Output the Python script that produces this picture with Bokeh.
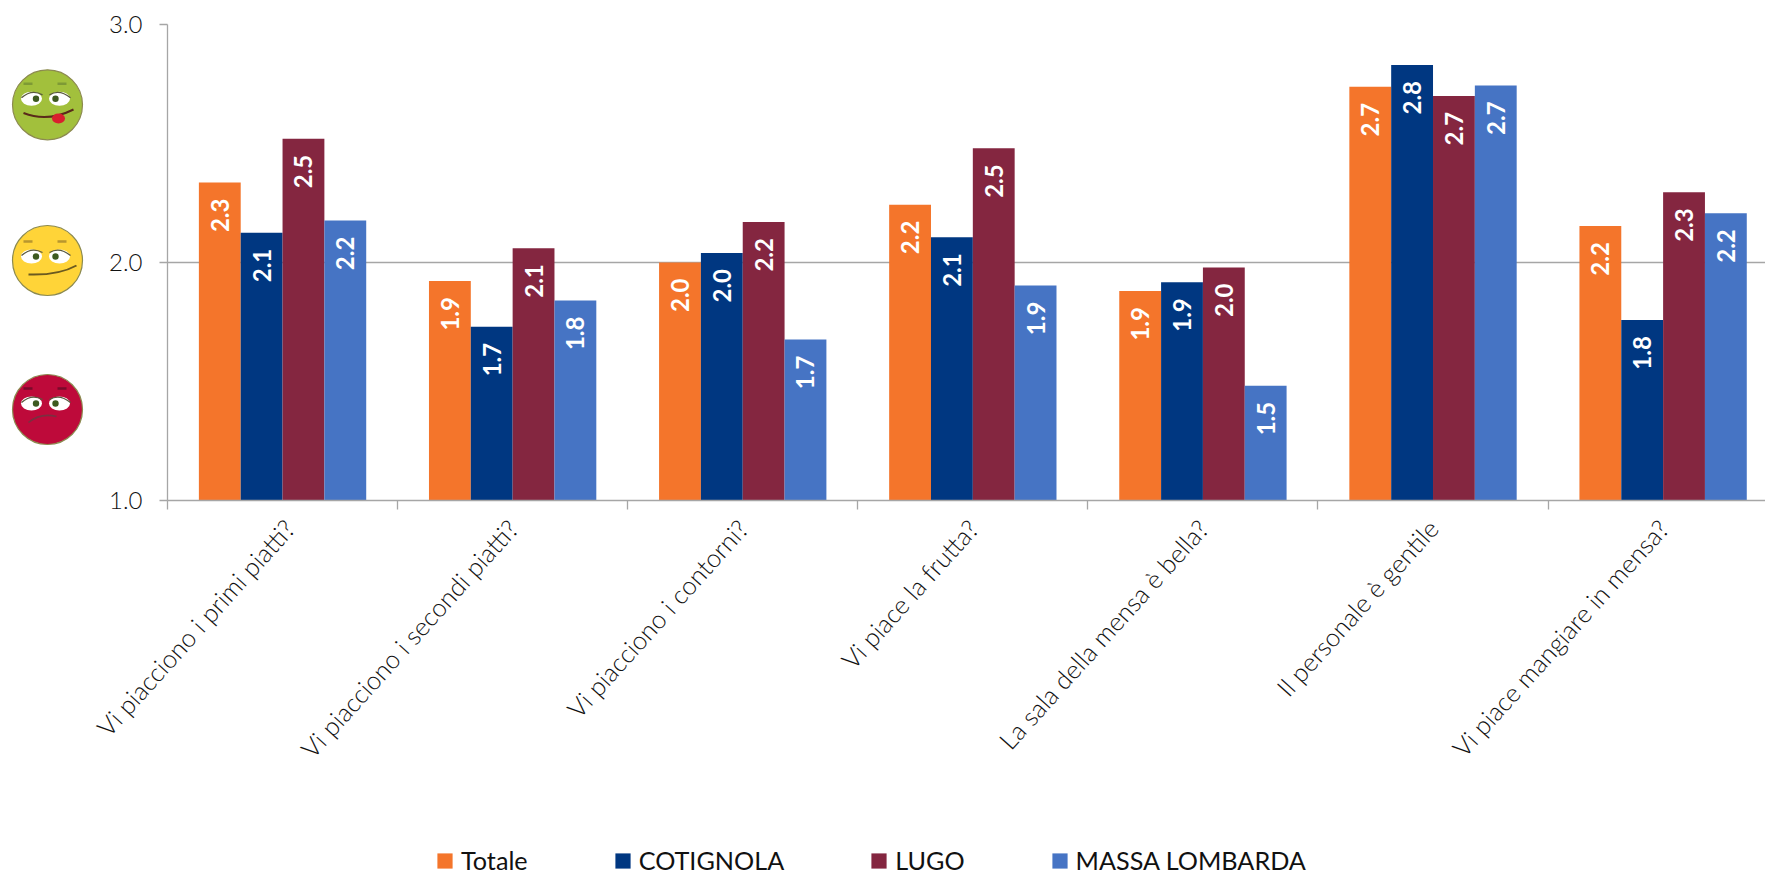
from math import pi
from bokeh.core.properties import value
from bokeh.embed import file_html
from bokeh.layouts import column, row
from bokeh.models import (ColumnDataSource, FixedTicker, Legend, LegendItem, NumeralTickFormatter, Range1d)
from bokeh.plotting import figure
from bokeh.resources import INLINE

categories = ["Vi piacciono i primi piatti?", "Vi piacciono i secondi piatti?", "Vi piacciono i contorni?",
              "Vi piace la frutta?", "La sala della mensa è bella?", "Il personale è gentile",
              "Vi piace mangiare in mensa?"]
totale = [2.336, 1.922, 2.00, 2.243, 1.88, 2.738, 2.153]
cotignola = [2.125, 1.73, 2.04, 2.106, 1.917, 2.83, 1.758]
lugo = [2.52, 2.06, 2.17, 2.48, 1.979, 2.70, 2.295]
massa = [2.176, 1.84, 1.676, 1.903, 1.482, 2.744, 2.207]
series_names = ["Totale", "COTIGNOLA", "LUGO", "MASSA LOMBARDA"]
series_values = [totale, cotignola, lugo, massa]
colors = ["#F4752B", "#003781", "#842640", "#4674C4"]
y_ticks = [1, 2, 3]

FONT = "Lato"
LIGHT = "'Lato Light', Lato"
GRAY = "#A6A6A6"
TOP_H = 835

# ---- left strip with the three faces
s = figure(width=90, height=TOP_H, x_range=Range1d(0, 90), y_range=Range1d(500, 24),
           toolbar_location=None, output_backend="svg",
           min_border_left=0, min_border_right=0, min_border_top=24, min_border_bottom=TOP_H - 500)
s.axis.visible = False
s.grid.visible = False
s.outline_line_color = None
face_cols = ["#A2C03C", "#FFD438", "#BE0A3A"]
brow_cols = ["#7E9A35", "#B8962E", "#7A0A2A"]
cy = [104.3, 260, 409]
eye_dy = [-6, -4, -6]
s.circle(x=[47, 47, 47], y=cy, radius=35, fill_color=face_cols, line_color="#8C8A50", line_width=1.2)
for c, d, bc in zip(cy, eye_dy, brow_cols):
    e = c + d
    s.ellipse(x=[31, 59], y=[e, e], width=21, height=14, fill_color="white", line_color=None)
    s.circle(x=[35.5, 55], y=[e, e], radius=3.2, fill_color="#3D5A20", line_color=None)
    s.quadratic(x0=[21, 49], y0=[e - 1, e - 4], x1=[42, 70], y1=[e - 4, e - 1], cx=[31, 59], cy=[e - 10, e - 10],
                line_color="#5A5A40", line_width=1.4)
    s.line([23, 32], [e - 15, e - 15], line_color=bc, line_width=2.5)
    s.line([57, 66], [e - 15, e - 15], line_color=bc, line_width=2.5)
s.quadratic(x0=[23], y0=[112.5], x1=[73], y1=[109], cx=[47], cy=[122], line_color="#5A2A1A", line_width=2)
s.ellipse(x=[58], y=[118], width=13, height=10, fill_color="#D9202E", line_color=None)
s.quadratic(x0=[28], y0=[274], x1=[76], y1=[265], cx=[58], cy=[275], line_color="#6B5A20", line_width=2)
s.quadratic(x0=[28], y0=[422], x1=[56], y1=[416], cx=[40], cy=[412], line_color="#7A3040", line_width=1.6)

# ---- main chart
p = figure(width=1675, height=TOP_H, x_range=Range1d(0, 6.945), y_range=Range1d(1, 3),
           toolbar_location=None, output_backend="svg",
           min_border_left=77, min_border_right=0, min_border_top=24, min_border_bottom=TOP_H - 500)
p.outline_line_color = None
p.xgrid.visible = False
p.ygrid.ticker = FixedTicker(ticks=y_ticks)
p.ygrid.grid_line_color = GRAY
p.ygrid.grid_line_width = 1.3

bar_w = 2 / 11
n = len(series_names)
for k, (name, vals, col) in enumerate(zip(series_names, series_values, colors)):
    xs = [i + 0.5 + (k - (n - 1) / 2) * bar_w for i in range(len(vals))]
    src = ColumnDataSource(dict(x=xs, top=vals, label=[f"{v:.1f}" for v in vals]))
    p.vbar(x="x", top="top", bottom=1, width=bar_w, fill_color=col, line_color=None, source=src)
    p.text(x="x", y="top", text="label", source=src, angle=pi / 2, text_align="right",
           text_baseline="middle", y_offset=16, text_color="white", text_font=value(FONT),
           text_font_style="bold", text_font_size="24px")

xa = p.xaxis[0]
xa.ticker = FixedTicker(ticks=[i + 0.5 for i in range(len(categories))], minor_ticks=list(range(8)))
xa.major_label_overrides = {i + 0.5: c for i, c in enumerate(categories)}
xa.major_label_orientation = 48 * pi / 180
xa.major_label_text_font = LIGHT
xa.major_label_text_font_size = "25.5px"
xa.major_label_text_color = "#111111"
xa.major_label_standoff = 14
xa.major_tick_line_color = None
xa.major_tick_out = 0
xa.major_tick_in = 0
xa.minor_tick_out = 9
xa.minor_tick_in = 0
xa.minor_tick_line_color = GRAY
xa.minor_tick_line_width = 1.3
xa.axis_line_color = GRAY
xa.axis_line_width = 1.3

ya = p.yaxis[0]
ya.ticker = FixedTicker(ticks=y_ticks)
ya.formatter = NumeralTickFormatter(format="0.0")
ya.minor_tick_line_color = None
ya.major_tick_out = 8
ya.major_tick_in = 0
ya.major_tick_line_color = GRAY
ya.major_tick_line_width = 1.3
ya.axis_line_color = GRAY
ya.axis_line_width = 1.3
ya.major_label_text_font = LIGHT
ya.major_label_text_font_size = "24px"
ya.major_label_text_color = "#111111"
ya.major_label_standoff = 17

# ---- legend strip (its own figure, so that nothing clips it)
lf = figure(width=1765, height=875 - TOP_H, x_range=Range1d(0, 1), y_range=Range1d(0, 1),
            toolbar_location=None, output_backend="svg", min_border=0)
lf.axis.visible = False
lf.grid.visible = False
lf.outline_line_color = None
key_renderers = [lf.vbar(x=[-5], top=[-5], bottom=[-6], width=1, fill_color=c, line_color=None) for c in colors]
legend = Legend(items=[LegendItem(label=nm, renderers=[r], index=0) for nm, r in zip(series_names, key_renderers)],
                orientation="horizontal", location=(435, 0), spacing=85, padding=0, margin=0,
                glyph_width=19, glyph_height=19, label_standoff=7, border_line_color=None,
                background_fill_alpha=0, label_text_font=FONT, label_text_font_size="25.2px",
                label_text_color="#111111")
lf.add_layout(legend, "center")

layout = column(row(s, p, spacing=0), lf, spacing=0)
open("out.html", "w").write(file_html(layout, INLINE))
